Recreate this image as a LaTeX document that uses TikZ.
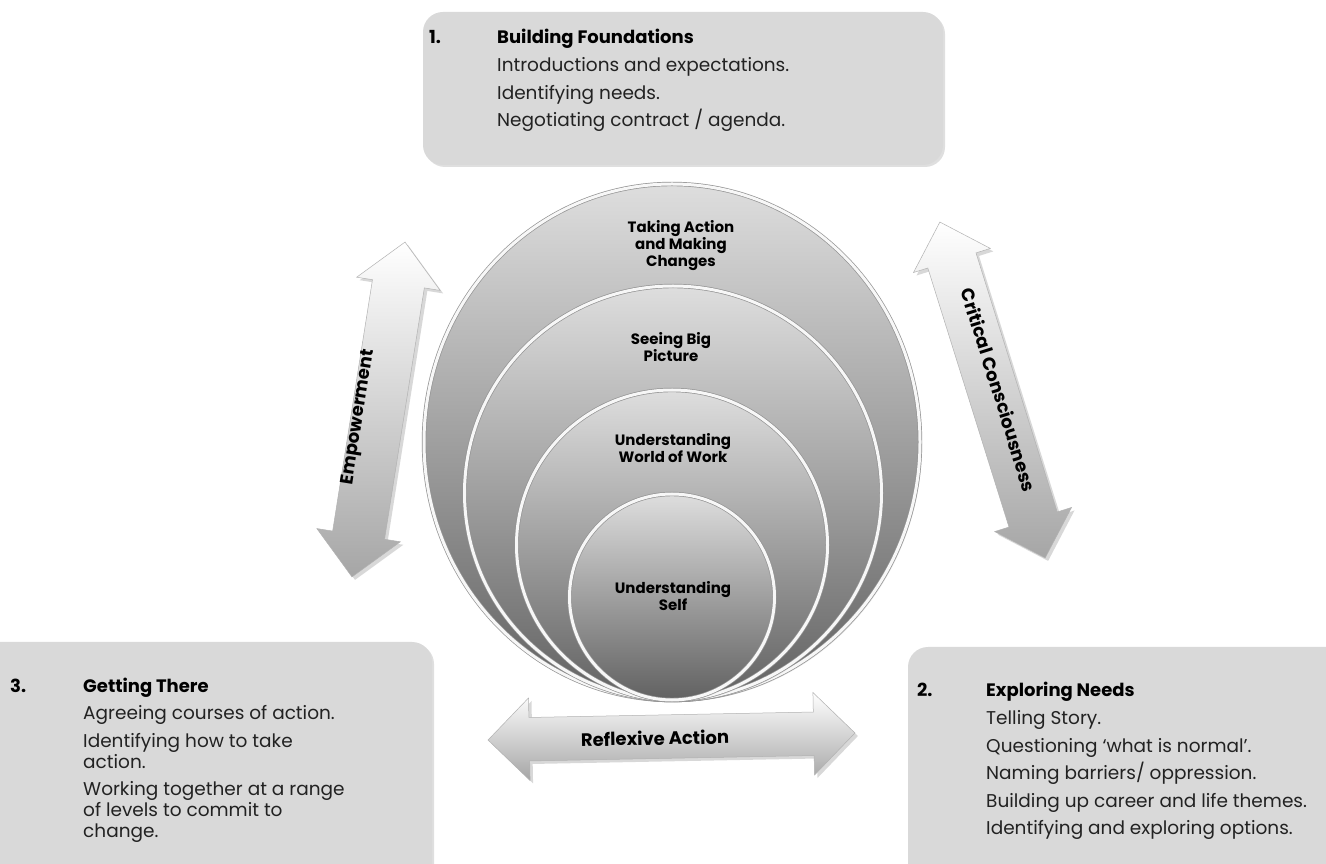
\documentclass[tikz,border=0pt]{standalone}
\usepackage{fontspec}
\setmainfont{Poppins}
\usetikzlibrary{shapes.arrows,shapes.geometric,shadows}
\definecolor{boxgray}{HTML}{D9D9D9}
\definecolor{inkgray}{HTML}{222222}
\tikzset{
  stagebox/.style={fill=boxgray,rounded corners=20pt,
    drop shadow={opacity=0.25,shadow xshift=2pt,shadow yshift=-2pt}},
  stagenum/.style={anchor=base west,inner sep=0pt,font=\bfseries\fontsize{18}{22}\selectfont},
  stagehead/.style={anchor=base west,inner sep=0pt,font=\bfseries\fontsize{18}{22}\selectfont},
  item/.style={anchor=base west,inner sep=0pt,text=inkgray,font=\fontsize{18.5}{22}\selectfont},
  ring/.style={ellipse,inner sep=0pt,draw=gray!85,line width=0.7pt,
    double=white!94!gray,double distance=3pt,
    top color=black!13,bottom color=black!62,
    drop shadow={opacity=0.2,shadow xshift=2pt,shadow yshift=-2pt}},
  ringlabel/.style={align=center,inner sep=0pt,font=\bfseries\fontsize{15}{17}\selectfont},
  twoway/.style={double arrow,inner xsep=0pt,double arrow head indent=0pt,
    draw=gray!60,line width=0.5pt,top color=white,bottom color=black!35,
    drop shadow={opacity=0.3,shadow xshift=3pt,shadow yshift=-3pt}},
  twowaylabel/.style={inner sep=0pt,font=\bfseries\fontsize{18}{20}\selectfont}
}
\begin{document}
\begin{tikzpicture}[x=1pt,y=1pt]
\clip(0,0)rectangle(1326,863);
\fill[white](0,0)rectangle(1326,863);
% stage boxes
\path[stagebox](423,698)rectangle(943,851);
\path[stagebox](-20,-30)rectangle(432,221);
\path[stagebox](908,-30)rectangle(1350,216);
%
\node[stagenum](n1)at(429,819){1.};
\node[stagehead](h1)at(497,819){Building Foundations};
\foreach \yy/\txt[count=\i] in {791/{Introductions and expectations.},763/{Identifying needs.},736/{Negotiating contract / agenda.}}
  \node[item](s1-\i)at(497,\yy){\txt};
%
\node[stagenum](n2)at(917,167){2.};
\node[stagehead](h2)at(986,167){Exploring Needs};
\foreach \yy/\txt[count=\i] in {139/{Telling Story.},111/{Questioning ‘what is normal’.},84/{Naming barriers/ oppression.},56/{Building up career and life themes.},29/{Identifying and exploring options.}}
  \node[item](s2-\i)at(986,\yy){\txt};
%
\node[stagenum](n3)at(10,170){3.};
\node[stagehead](h3)at(83,170){Getting There};
\foreach \yy/\txt[count=\i] in {143/{Agreeing courses of action.},116/{Identifying how to take},95/{action.},68/{Working together at a range},47/{of levels to commit to},26/{change.}}
  \node[item](s3-\i)at(83,\yy){\txt};
% nested circles
\node[ring,minimum width=496,minimum height=516](r4)at(672,421){};
\node[ring,minimum width=417,minimum height=414](r3)at(673,370){};
\node[ring,minimum width=311,minimum height=310](r2)at(672,318){};
\node[ring,minimum width=205,minimum height=206](r1)at(672,266){};
\node[ringlabel](l4)at(681,617){Taking Action\\and Making\\Changes};
\node[ringlabel](l3)at(671,516){Seeing Big\\Picture};
\node[ringlabel](l2)at(673,415){Understanding\\World of Work};
\node[ringlabel](l1)at(673,267){Understanding\\Self};
% two way arrows
\node[twoway,rotate=81,inner ysep=26,minimum height=339,minimum width=84,double arrow head extend=16](emp)at(378.5,453.5){};
\node[twowaylabel,rotate=81](empl)at(359,446){Empowerment};
\node[twoway,rotate=107.4,inner ysep=25,minimum height=352,minimum width=80,double arrow head extend=15](crit)at(992.5,473){};
\node[twowaylabel,rotate=-72.6](critl)at(999,473){Critical Consciousness};
\node[twoway,rotate=1.1,inner ysep=21.5,minimum height=367,minimum width=82,double arrow head extend=19.5](refl)at(671.5,126.5){};
\node[twowaylabel,rotate=1.1](refll)at(655,125){Reflexive Action};
\end{tikzpicture}
\end{document}
